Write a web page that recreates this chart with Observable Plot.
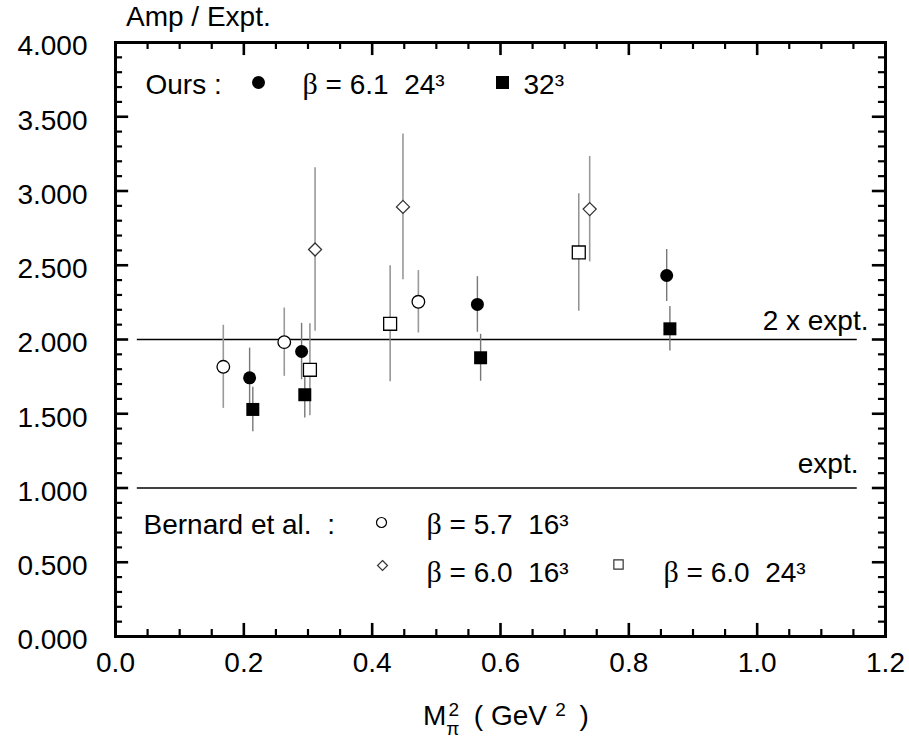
<!DOCTYPE html>
<html><head><meta charset="utf-8">
<script src="https://cdn.jsdelivr.net/npm/d3@7"></script>
<script src="https://cdn.jsdelivr.net/npm/@observablehq/plot@0.6"></script>
<style>
body{margin:0;background:#fff;}
svg text{white-space:pre;}
</style></head><body><div id="chart"></div>
<script>
// ---- data ----
const ours24 = [
  {x:0.209, y:1.742, err:0.20},
  {x:0.290, y:1.919, err:0.19},
  {x:0.564, y:2.236, err:0.187},
  {x:0.859, y:2.431, err:0.175}
];
const ours32 = [
  {x:0.214, y:1.529, err:0.15},
  {x:0.295, y:1.628, err:0.157},
  {x:0.569, y:1.877, err:0.158},
  {x:0.864, y:2.072, err:0.15}
];
const bern57_16 = [
  {x:0.168, y:1.816, err:0.28},
  {x:0.263, y:1.982, err:0.23},
  {x:0.472, y:2.254, err:0.21}
];
const bern60_16 = [
  {x:0.311, y:2.606, err:0.55},
  {x:0.448, y:2.893, err:0.49},
  {x:0.739, y:2.878, err:0.355}
];
const bern60_24 = [
  {x:0.303, y:1.796, err:0.31},
  {x:0.428, y:2.106, err:0.39},
  {x:0.722, y:2.586, err:0.395}
];
const refLines = [{y:2, label:"2 x expt."}, {y:1, label:"expt."}];
const xMajor = [0, 0.2, 0.4, 0.6, 0.8, 1.0, 1.2];
const yMajor = [0, 0.5, 1, 1.5, 2, 2.5, 3, 3.5, 4];
const xMinor = d3.range(0, 1.2001, 0.05).filter(v => Math.abs(v*5 - Math.round(v*5)) > 1e-6);
const yMinor = d3.range(0, 4.0001, 0.1).filter(v => Math.abs(v*2 - Math.round(v*2)) > 1e-6);

const FONT = "'Liberation Sans', Arial, Helvetica, sans-serif";
const errBar = (data, stroke, w) => Plot.ruleX(data, {x:"x", y1:d=>d.y-d.err, y2:d=>d.y+d.err, stroke, strokeWidth:w});

// tick lengths in data units
const yMaj = 0.088, yMin = 0.047, xMaj = 0.0205, xMin = 0.011;

const chart = Plot.plot({
  width: 909, height: 738,
  marginLeft: 115, marginRight: 24, marginTop: 42, marginBottom: 102,
  x: {domain: [0, 1.2]},
  y: {domain: [0, 4]},
  style: {fontFamily: FONT, fontSize: "28px", background: "white", color: "black"},
  marks: [
    // axes labels
    Plot.axisX({ticks: xMajor, tickSize: 0, tickPadding: 16, tickFormat: d3.format(".1f"), fontSize: 28, label: null}),
    Plot.axisY({ticks: yMajor, tickSize: 0, tickPadding: 28, tickFormat: d3.format(".3f"), fontSize: 28, dy: 4, label: null}),
    // inward ticks on all sides
    Plot.ruleX(xMinor, {x: d=>d, y1: 0, y2: yMin, strokeWidth: 2.2}),
    Plot.ruleX(xMajor, {x: d=>d, y1: 0, y2: yMaj, strokeWidth: 2.6}),
    Plot.ruleX(xMinor, {x: d=>d, y1: 4, y2: 4-yMin, strokeWidth: 2.2}),
    Plot.ruleX(xMajor, {x: d=>d, y1: 4, y2: 4-yMaj, strokeWidth: 2.6}),
    Plot.ruleY(yMinor, {y: d=>d, x1: 0, x2: xMin, strokeWidth: 2.2}),
    Plot.ruleY(yMajor, {y: d=>d, x1: 0, x2: xMaj, strokeWidth: 2.6}),
    Plot.ruleY(yMinor, {y: d=>d, x1: 1.2, x2: 1.2-xMin, strokeWidth: 2.2}),
    Plot.ruleY(yMajor, {y: d=>d, x1: 1.2, x2: 1.2-xMaj, strokeWidth: 2.6}),
    // reference lines
    Plot.ruleY(refLines, {y: "y", x1: 0.034, x2: 1.156, stroke: "black", strokeWidth: 1.5}),
    Plot.text([refLines[0]], {y: "y", text: "label", frameAnchor: "right", textAnchor: "end", lineAnchor: "bottom", dx: -17, dy: -10, fontSize: 28}),
    Plot.text([refLines[1]], {y: "y", text: "label", frameAnchor: "right", textAnchor: "end", lineAnchor: "bottom", dx: -27, dy: -15, fontSize: 28}),
    // error bars
    errBar(bern57_16, "#999", 1.6),
    errBar(bern60_16, "#999", 1.6),
    errBar(bern60_24, "#888", 1.4),
    errBar(ours24, "#777", 1.4),
    errBar(ours32, "#777", 1.4),
    // markers
    Plot.dot(bern57_16, {x:"x", y:"y", r:6.3, symbol:"circle", fill:"white", stroke:"black", strokeWidth:1.3}),
    Plot.dot(bern60_16, {x:"x", y:"y", r:5.86, symbol:"diamond2", fill:"white", stroke:"#333", strokeWidth:1.3}),
    Plot.dot(bern60_24, {x:"x", y:"y", r:7.3, symbol:"square", fill:"white", stroke:"black", strokeWidth:1.3}),
    Plot.dot(ours24, {x:"x", y:"y", r:6.5, symbol:"circle", fill:"black"}),
    Plot.dot(ours32, {x:"x", y:"y", r:7.33, symbol:"square", fill:"black"}),
    // frame
    Plot.frame({stroke: "black", strokeWidth: 3}),
    // legend (top)
    Plot.text(["Ours :"], {frameAnchor:"top-left", text:d=>d, textAnchor:"start", lineAnchor:"bottom", dx:30, dy:51, fontSize:28}),
    Plot.dot([0], {frameAnchor:"top-left", dx:143, dy:40, r:6.5, symbol:"circle", fill:"black"}),
    Plot.text(["β = 6.1  24³"], {frameAnchor:"top-left", text:d=>d, textAnchor:"start", lineAnchor:"bottom", dx:187, dy:51, fontSize:28}),
    Plot.dot([0], {frameAnchor:"top-left", dx:387, dy:40, r:7.33, symbol:"square", fill:"black"}),
    Plot.text(["32³"], {frameAnchor:"top-left", text:d=>d, textAnchor:"start", lineAnchor:"bottom", dx:408, dy:51, fontSize:28}),
    // legend (bottom)
    Plot.text(["Bernard et al.  :"], {frameAnchor:"bottom-left", text:d=>d, textAnchor:"start", lineAnchor:"bottom", dx:28, dy:-103, fontSize:28}),
    Plot.dot([0], {frameAnchor:"bottom-left", dx:266, dy:-114, r:5, symbol:"circle", fill:"white", stroke:"black", strokeWidth:1.2}),
    Plot.text(["β = 5.7  16³"], {frameAnchor:"bottom-left", text:d=>d, textAnchor:"start", lineAnchor:"bottom", dx:311, dy:-103, fontSize:28}),
    Plot.dot([0], {frameAnchor:"bottom-left", dx:267, dy:-71, r:4.5, symbol:"diamond2", fill:"white", stroke:"#333", strokeWidth:1.2}),
    Plot.text(["β = 6.0  16³"], {frameAnchor:"bottom-left", text:d=>d, textAnchor:"start", lineAnchor:"bottom", dx:311, dy:-55, fontSize:28}),
    Plot.dot([0], {frameAnchor:"bottom-left", dx:503, dy:-72, r:5.25, symbol:"square", fill:"white", stroke:"#333", strokeWidth:1.2}),
    Plot.text(["β = 6.0  24³"], {frameAnchor:"bottom-left", text:d=>d, textAnchor:"start", lineAnchor:"bottom", dx:548, dy:-55, fontSize:28})
  ]
});

// Greek beta in a serif face, like the original Symbol glyph
d3.select(chart).selectAll("text").each(function() {
  const t = this.textContent;
  if (!t.includes("β") || this.querySelector("tspan")) return;
  const sel = d3.select(this);
  sel.text(null);
  t.split(/(β)/).forEach(part => {
    if (!part) return;
    const ts = sel.append("tspan").text(part);
    if (part === "β") ts.attr("font-family", "'Liberation Serif', 'DejaVu Serif', serif").attr("font-size", 30);
  });
});

const svg = d3.select(chart);
// y-axis title
svg.append("text").attr("x", 126).attr("y", 26).attr("text-anchor", "start")
  .attr("font-size", 28).attr("font-family", FONT).attr("fill", "black").text("Amp / Expt.");
// x-axis title
const xt = svg.append("text").attr("x", 423).attr("y", 725).attr("text-anchor", "start")
  .attr("font-size", 28).attr("font-family", FONT).attr("fill", "black");
xt.append("tspan").text("M");
xt.append("tspan").attr("font-size", 19).attr("dy", 10).text("π");
xt.append("tspan").attr("font-size", 19).attr("dx", -11).attr("dy", -19).text("2");
xt.append("tspan").attr("dy", 9).attr("dx", 7).text(" ( GeV");
xt.append("tspan").attr("font-size", 19).attr("dy", -9).attr("dx", 3).text(" 2");
xt.append("tspan").attr("dy", 9).attr("dx", 6).text(" )");

document.getElementById("chart").appendChild(chart);
</script></body></html>
